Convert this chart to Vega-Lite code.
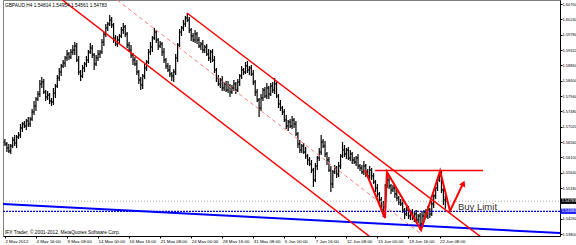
{
"$schema": "https://vega.github.io/schema/vega-lite/v6.json",
"width": 557, "height": 236, "padding": 0, "autosize": {"type": "pad"},
"background": "white",
"config": {"view": {"stroke": "#808080", "strokeWidth": 1}, "font": "Liberation Sans", "axis": {"labelFont": "Liberation Sans", "labelOverlap": false, "labelFlush": false, "labelBound": false, "grid": false, "title": null}},
"resolve": {"axis": {"x": "independent", "y": "independent"}},
"datasets": {"bars": [
{"i":0,"o":1.5656,"h":1.5665,"l":1.5644,"c":1.5650},{"i":1,"o":1.5650,"h":1.5656,"l":1.5626,"c":1.5638},{"i":2,"o":1.5638,"h":1.5650,"l":1.5623,"c":1.5629},{"i":3,"o":1.5629,"h":1.5650,"l":1.5620,"c":1.5644},{"i":4,"o":1.5644,"h":1.5671,"l":1.5638,"c":1.5662},{"i":5,"o":1.5662,"h":1.5677,"l":1.5644,"c":1.5653},{"i":6,"o":1.5653,"h":1.5677,"l":1.5638,"c":1.5671},{"i":7,"o":1.5671,"h":1.5686,"l":1.5665,"c":1.5677},{"i":8,"o":1.5677,"h":1.5710,"l":1.5668,"c":1.5698},{"i":9,"o":1.5698,"h":1.5716,"l":1.5686,"c":1.5710},
{"i":10,"o":1.5710,"h":1.5719,"l":1.5698,"c":1.5704},{"i":11,"o":1.5704,"h":1.5725,"l":1.5692,"c":1.5719},{"i":12,"o":1.5719,"h":1.5731,"l":1.5701,"c":1.5710},{"i":13,"o":1.5710,"h":1.5731,"l":1.5701,"c":1.5725},{"i":14,"o":1.5725,"h":1.5755,"l":1.5719,"c":1.5746},{"i":15,"o":1.5746,"h":1.5779,"l":1.5737,"c":1.5764},{"i":16,"o":1.5764,"h":1.5791,"l":1.5749,"c":1.5785},{"i":17,"o":1.5785,"h":1.5809,"l":1.5779,"c":1.5800},{"i":18,"o":1.5800,"h":1.5842,"l":1.5791,"c":1.5830},{"i":19,"o":1.5830,"h":1.5851,"l":1.5818,"c":1.5836},
{"i":20,"o":1.5836,"h":1.5845,"l":1.5800,"c":1.5806},{"i":21,"o":1.5806,"h":1.5812,"l":1.5779,"c":1.5791},{"i":22,"o":1.5791,"h":1.5809,"l":1.5782,"c":1.5797},{"i":23,"o":1.5797,"h":1.5803,"l":1.5770,"c":1.5779},{"i":24,"o":1.5779,"h":1.5788,"l":1.5764,"c":1.5776},{"i":25,"o":1.5776,"h":1.5818,"l":1.5767,"c":1.5803},{"i":26,"o":1.5803,"h":1.5830,"l":1.5788,"c":1.5824},{"i":27,"o":1.5824,"h":1.5857,"l":1.5818,"c":1.5848},{"i":28,"o":1.5848,"h":1.5878,"l":1.5839,"c":1.5866},{"i":29,"o":1.5866,"h":1.5890,"l":1.5854,"c":1.5884},
{"i":30,"o":1.5884,"h":1.5902,"l":1.5878,"c":1.5893},{"i":31,"o":1.5893,"h":1.5914,"l":1.5881,"c":1.5908},{"i":32,"o":1.5908,"h":1.5932,"l":1.5899,"c":1.5920},{"i":33,"o":1.5920,"h":1.5926,"l":1.5902,"c":1.5911},{"i":34,"o":1.5911,"h":1.5935,"l":1.5905,"c":1.5926},{"i":35,"o":1.5926,"h":1.5947,"l":1.5917,"c":1.5932},{"i":36,"o":1.5932,"h":1.5956,"l":1.5917,"c":1.5944},{"i":37,"o":1.5944,"h":1.5953,"l":1.5896,"c":1.5902},{"i":38,"o":1.5902,"h":1.5914,"l":1.5857,"c":1.5866},{"i":39,"o":1.5866,"h":1.5872,"l":1.5839,"c":1.5854},
{"i":40,"o":1.5854,"h":1.5887,"l":1.5848,"c":1.5878},{"i":41,"o":1.5878,"h":1.5896,"l":1.5866,"c":1.5890},{"i":42,"o":1.5890,"h":1.5914,"l":1.5881,"c":1.5902},{"i":43,"o":1.5902,"h":1.5932,"l":1.5893,"c":1.5926},{"i":44,"o":1.5926,"h":1.5953,"l":1.5920,"c":1.5938},{"i":45,"o":1.5938,"h":1.5947,"l":1.5908,"c":1.5917},{"i":46,"o":1.5917,"h":1.5923,"l":1.5872,"c":1.5890},{"i":47,"o":1.5890,"h":1.5917,"l":1.5884,"c":1.5908},{"i":48,"o":1.5908,"h":1.5932,"l":1.5899,"c":1.5920},{"i":49,"o":1.5920,"h":1.5932,"l":1.5908,"c":1.5926},
{"i":50,"o":1.5926,"h":1.5965,"l":1.5920,"c":1.5956},{"i":51,"o":1.5956,"h":1.5986,"l":1.5944,"c":1.5980},{"i":52,"o":1.5980,"h":1.6010,"l":1.5971,"c":1.5998},{"i":53,"o":1.5998,"h":1.6016,"l":1.5989,"c":1.6010},{"i":54,"o":1.6010,"h":1.6037,"l":1.6004,"c":1.6022},{"i":55,"o":1.6022,"h":1.6031,"l":1.5998,"c":1.6007},{"i":56,"o":1.6007,"h":1.6013,"l":1.5953,"c":1.5968},{"i":57,"o":1.5968,"h":1.5977,"l":1.5944,"c":1.5950},{"i":58,"o":1.5950,"h":1.5974,"l":1.5941,"c":1.5962},{"i":59,"o":1.5962,"h":1.5980,"l":1.5950,"c":1.5974},
{"i":60,"o":1.5974,"h":1.6001,"l":1.5968,"c":1.5992},{"i":61,"o":1.5992,"h":1.6013,"l":1.5980,"c":1.6001},{"i":62,"o":1.6001,"h":1.6007,"l":1.5971,"c":1.5980},{"i":63,"o":1.5980,"h":1.5986,"l":1.5938,"c":1.5947},{"i":64,"o":1.5947,"h":1.5956,"l":1.5926,"c":1.5932},{"i":65,"o":1.5932,"h":1.5947,"l":1.5908,"c":1.5917},{"i":66,"o":1.5917,"h":1.5923,"l":1.5887,"c":1.5902},{"i":67,"o":1.5902,"h":1.5911,"l":1.5884,"c":1.5890},{"i":68,"o":1.5890,"h":1.5902,"l":1.5857,"c":1.5866},{"i":69,"o":1.5866,"h":1.5872,"l":1.5830,"c":1.5842},
{"i":70,"o":1.5842,"h":1.5851,"l":1.5812,"c":1.5827},{"i":71,"o":1.5827,"h":1.5860,"l":1.5815,"c":1.5854},{"i":72,"o":1.5854,"h":1.5890,"l":1.5845,"c":1.5878},{"i":73,"o":1.5878,"h":1.5902,"l":1.5869,"c":1.5896},{"i":74,"o":1.5896,"h":1.5935,"l":1.5890,"c":1.5926},{"i":75,"o":1.5926,"h":1.5956,"l":1.5917,"c":1.5941},{"i":76,"o":1.5941,"h":1.5974,"l":1.5926,"c":1.5968},{"i":77,"o":1.5968,"h":1.5998,"l":1.5962,"c":1.5986},{"i":78,"o":1.5986,"h":1.5992,"l":1.5953,"c":1.5962},{"i":79,"o":1.5962,"h":1.5968,"l":1.5932,"c":1.5944},
{"i":80,"o":1.5944,"h":1.5959,"l":1.5938,"c":1.5950},{"i":81,"o":1.5950,"h":1.5956,"l":1.5914,"c":1.5926},{"i":82,"o":1.5926,"h":1.5938,"l":1.5893,"c":1.5902},{"i":83,"o":1.5902,"h":1.5908,"l":1.5875,"c":1.5884},{"i":84,"o":1.5884,"h":1.5893,"l":1.5866,"c":1.5872},{"i":85,"o":1.5872,"h":1.5887,"l":1.5851,"c":1.5860},{"i":86,"o":1.5860,"h":1.5866,"l":1.5839,"c":1.5854},{"i":87,"o":1.5854,"h":1.5875,"l":1.5836,"c":1.5866},{"i":88,"o":1.5866,"h":1.5920,"l":1.5857,"c":1.5908},{"i":89,"o":1.5908,"h":1.5953,"l":1.5896,"c":1.5947},
{"i":90,"o":1.5947,"h":1.5995,"l":1.5941,"c":1.5986},{"i":91,"o":1.5986,"h":1.6004,"l":1.5974,"c":1.5998},{"i":92,"o":1.5998,"h":1.6022,"l":1.5989,"c":1.6010},{"i":93,"o":1.6010,"h":1.6034,"l":1.6001,"c":1.6028},{"i":94,"o":1.6028,"h":1.6043,"l":1.6016,"c":1.6022},{"i":95,"o":1.6022,"h":1.6031,"l":1.5983,"c":1.5992},{"i":96,"o":1.5992,"h":1.5998,"l":1.5959,"c":1.5974},{"i":97,"o":1.5974,"h":1.5983,"l":1.5956,"c":1.5962},{"i":98,"o":1.5962,"h":1.5992,"l":1.5953,"c":1.5980},{"i":99,"o":1.5980,"h":1.5986,"l":1.5950,"c":1.5962},
{"i":100,"o":1.5962,"h":1.5971,"l":1.5938,"c":1.5944},{"i":101,"o":1.5944,"h":1.5956,"l":1.5932,"c":1.5950},{"i":102,"o":1.5950,"h":1.5962,"l":1.5923,"c":1.5932},{"i":103,"o":1.5932,"h":1.5947,"l":1.5923,"c":1.5941},{"i":104,"o":1.5941,"h":1.5950,"l":1.5914,"c":1.5920},{"i":105,"o":1.5920,"h":1.5935,"l":1.5899,"c":1.5908},{"i":106,"o":1.5908,"h":1.5932,"l":1.5893,"c":1.5926},{"i":107,"o":1.5926,"h":1.5935,"l":1.5896,"c":1.5902},{"i":108,"o":1.5902,"h":1.5914,"l":1.5863,"c":1.5872},{"i":109,"o":1.5872,"h":1.5878,"l":1.5836,"c":1.5848},
{"i":110,"o":1.5848,"h":1.5857,"l":1.5824,"c":1.5830},{"i":111,"o":1.5830,"h":1.5848,"l":1.5818,"c":1.5842},{"i":112,"o":1.5842,"h":1.5854,"l":1.5809,"c":1.5818},{"i":113,"o":1.5818,"h":1.5836,"l":1.5809,"c":1.5830},{"i":114,"o":1.5830,"h":1.5839,"l":1.5806,"c":1.5812},{"i":115,"o":1.5812,"h":1.5839,"l":1.5803,"c":1.5824},{"i":116,"o":1.5824,"h":1.5830,"l":1.5791,"c":1.5806},{"i":117,"o":1.5806,"h":1.5827,"l":1.5800,"c":1.5818},{"i":118,"o":1.5818,"h":1.5842,"l":1.5809,"c":1.5830},{"i":119,"o":1.5830,"h":1.5836,"l":1.5800,"c":1.5812},
{"i":120,"o":1.5812,"h":1.5845,"l":1.5806,"c":1.5836},{"i":121,"o":1.5836,"h":1.5860,"l":1.5824,"c":1.5854},{"i":122,"o":1.5854,"h":1.5884,"l":1.5845,"c":1.5872},{"i":123,"o":1.5872,"h":1.5878,"l":1.5857,"c":1.5866},{"i":124,"o":1.5866,"h":1.5896,"l":1.5860,"c":1.5884},{"i":125,"o":1.5884,"h":1.5899,"l":1.5863,"c":1.5872},{"i":126,"o":1.5872,"h":1.5884,"l":1.5857,"c":1.5878},{"i":127,"o":1.5878,"h":1.5887,"l":1.5854,"c":1.5860},{"i":128,"o":1.5860,"h":1.5872,"l":1.5827,"c":1.5836},{"i":129,"o":1.5836,"h":1.5842,"l":1.5794,"c":1.5806},
{"i":130,"o":1.5806,"h":1.5815,"l":1.5776,"c":1.5782},{"i":131,"o":1.5782,"h":1.5788,"l":1.5731,"c":1.5758},{"i":132,"o":1.5758,"h":1.5800,"l":1.5749,"c":1.5788},{"i":133,"o":1.5788,"h":1.5818,"l":1.5779,"c":1.5812},{"i":134,"o":1.5812,"h":1.5821,"l":1.5788,"c":1.5794},{"i":135,"o":1.5794,"h":1.5833,"l":1.5785,"c":1.5818},{"i":136,"o":1.5818,"h":1.5824,"l":1.5785,"c":1.5800},{"i":137,"o":1.5800,"h":1.5833,"l":1.5794,"c":1.5824},{"i":138,"o":1.5824,"h":1.5836,"l":1.5803,"c":1.5812},{"i":139,"o":1.5812,"h":1.5848,"l":1.5800,"c":1.5830},
{"i":140,"o":1.5830,"h":1.5839,"l":1.5788,"c":1.5794},{"i":141,"o":1.5794,"h":1.5800,"l":1.5758,"c":1.5770},{"i":142,"o":1.5770,"h":1.5782,"l":1.5749,"c":1.5758},{"i":143,"o":1.5758,"h":1.5764,"l":1.5737,"c":1.5746},{"i":144,"o":1.5746,"h":1.5755,"l":1.5716,"c":1.5722},{"i":145,"o":1.5722,"h":1.5737,"l":1.5695,"c":1.5704},{"i":146,"o":1.5704,"h":1.5722,"l":1.5689,"c":1.5716},{"i":147,"o":1.5716,"h":1.5725,"l":1.5698,"c":1.5704},{"i":148,"o":1.5704,"h":1.5734,"l":1.5695,"c":1.5722},{"i":149,"o":1.5722,"h":1.5728,"l":1.5698,"c":1.5710},
{"i":150,"o":1.5710,"h":1.5719,"l":1.5674,"c":1.5680},{"i":151,"o":1.5680,"h":1.5686,"l":1.5638,"c":1.5650},{"i":152,"o":1.5650,"h":1.5662,"l":1.5623,"c":1.5632},{"i":153,"o":1.5632,"h":1.5650,"l":1.5623,"c":1.5644},{"i":154,"o":1.5644,"h":1.5653,"l":1.5620,"c":1.5626},{"i":155,"o":1.5626,"h":1.5641,"l":1.5605,"c":1.5614},{"i":156,"o":1.5614,"h":1.5620,"l":1.5587,"c":1.5602},{"i":157,"o":1.5602,"h":1.5611,"l":1.5584,"c":1.5590},{"i":158,"o":1.5590,"h":1.5602,"l":1.5563,"c":1.5572},{"i":159,"o":1.5572,"h":1.5578,"l":1.5521,"c":1.5542},
{"i":160,"o":1.5542,"h":1.5593,"l":1.5536,"c":1.5584},{"i":161,"o":1.5584,"h":1.5614,"l":1.5572,"c":1.5608},{"i":162,"o":1.5608,"h":1.5638,"l":1.5599,"c":1.5626},{"i":163,"o":1.5626,"h":1.5677,"l":1.5617,"c":1.5656},{"i":164,"o":1.5656,"h":1.5665,"l":1.5638,"c":1.5644},{"i":165,"o":1.5644,"h":1.5659,"l":1.5611,"c":1.5620},{"i":166,"o":1.5620,"h":1.5626,"l":1.5587,"c":1.5602},{"i":167,"o":1.5602,"h":1.5611,"l":1.5566,"c":1.5572},{"i":168,"o":1.5572,"h":1.5584,"l":1.5506,"c":1.5530},{"i":169,"o":1.5530,"h":1.5572,"l":1.5518,"c":1.5566},
{"i":170,"o":1.5566,"h":1.5587,"l":1.5560,"c":1.5578},{"i":171,"o":1.5578,"h":1.5584,"l":1.5548,"c":1.5560},{"i":172,"o":1.5560,"h":1.5596,"l":1.5551,"c":1.5584},{"i":173,"o":1.5584,"h":1.5620,"l":1.5575,"c":1.5614},{"i":174,"o":1.5614,"h":1.5656,"l":1.5608,"c":1.5632},{"i":175,"o":1.5632,"h":1.5647,"l":1.5611,"c":1.5620},{"i":176,"o":1.5620,"h":1.5638,"l":1.5605,"c":1.5632},{"i":177,"o":1.5632,"h":1.5641,"l":1.5602,"c":1.5608},{"i":178,"o":1.5608,"h":1.5632,"l":1.5599,"c":1.5620},{"i":179,"o":1.5620,"h":1.5626,"l":1.5590,"c":1.5602},
{"i":180,"o":1.5602,"h":1.5611,"l":1.5590,"c":1.5596},{"i":181,"o":1.5596,"h":1.5614,"l":1.5584,"c":1.5608},{"i":182,"o":1.5608,"h":1.5620,"l":1.5575,"c":1.5584},{"i":183,"o":1.5584,"h":1.5590,"l":1.5569,"c":1.5578},{"i":184,"o":1.5578,"h":1.5587,"l":1.5560,"c":1.5566},{"i":185,"o":1.5566,"h":1.5599,"l":1.5557,"c":1.5584},{"i":186,"o":1.5584,"h":1.5590,"l":1.5551,"c":1.5566},{"i":187,"o":1.5566,"h":1.5575,"l":1.5548,"c":1.5554},{"i":188,"o":1.5554,"h":1.5584,"l":1.5545,"c":1.5572},{"i":189,"o":1.5572,"h":1.5578,"l":1.5542,"c":1.5554},
{"i":190,"o":1.5554,"h":1.5563,"l":1.5530,"c":1.5536},{"i":191,"o":1.5536,"h":1.5542,"l":1.5506,"c":1.5518},{"i":192,"o":1.5518,"h":1.5530,"l":1.5491,"c":1.5500},{"i":193,"o":1.5500,"h":1.5506,"l":1.5473,"c":1.5482},{"i":194,"o":1.5482,"h":1.5491,"l":1.5446,"c":1.5452},{"i":195,"o":1.5452,"h":1.5479,"l":1.5431,"c":1.5464},{"i":196,"o":1.5464,"h":1.5530,"l":1.5455,"c":1.5524},{"i":197,"o":1.5524,"h":1.5563,"l":1.5518,"c":1.5542},{"i":198,"o":1.5542,"h":1.5554,"l":1.5515,"c":1.5524},{"i":199,"o":1.5524,"h":1.5530,"l":1.5500,"c":1.5512},
{"i":200,"o":1.5512,"h":1.5527,"l":1.5506,"c":1.5518},{"i":201,"o":1.5518,"h":1.5524,"l":1.5488,"c":1.5500},{"i":202,"o":1.5500,"h":1.5512,"l":1.5479,"c":1.5488},{"i":203,"o":1.5488,"h":1.5494,"l":1.5467,"c":1.5476},{"i":204,"o":1.5476,"h":1.5485,"l":1.5464,"c":1.5470},{"i":205,"o":1.5470,"h":1.5485,"l":1.5443,"c":1.5452},{"i":206,"o":1.5452,"h":1.5458,"l":1.5425,"c":1.5440},{"i":207,"o":1.5440,"h":1.5461,"l":1.5434,"c":1.5452},{"i":208,"o":1.5452,"h":1.5464,"l":1.5425,"c":1.5434},{"i":209,"o":1.5434,"h":1.5452,"l":1.5422,"c":1.5446},
{"i":210,"o":1.5446,"h":1.5455,"l":1.5422,"c":1.5428},{"i":211,"o":1.5428,"h":1.5446,"l":1.5416,"c":1.5440},{"i":212,"o":1.5440,"h":1.5452,"l":1.5413,"c":1.5422},{"i":213,"o":1.5422,"h":1.5440,"l":1.5413,"c":1.5434},{"i":214,"o":1.5434,"h":1.5443,"l":1.5392,"c":1.5410},{"i":215,"o":1.5410,"h":1.5449,"l":1.5401,"c":1.5434},{"i":216,"o":1.5434,"h":1.5452,"l":1.5419,"c":1.5446},{"i":217,"o":1.5446,"h":1.5455,"l":1.5428,"c":1.5434},{"i":218,"o":1.5434,"h":1.5464,"l":1.5425,"c":1.5452},{"i":219,"o":1.5452,"h":1.5458,"l":1.5428,"c":1.5440},
{"i":220,"o":1.5440,"h":1.5479,"l":1.5434,"c":1.5470},{"i":221,"o":1.5470,"h":1.5500,"l":1.5458,"c":1.5494},{"i":222,"o":1.5494,"h":1.5530,"l":1.5485,"c":1.5518},{"i":223,"o":1.5518,"h":1.5548,"l":1.5509,"c":1.5542},{"i":224,"o":1.5542,"h":1.5572,"l":1.5536,"c":1.5554},{"i":225,"o":1.5554,"h":1.5569,"l":1.5503,"c":1.5512},{"i":226,"o":1.5512,"h":1.5518,"l":1.5467,"c":1.5482},{"i":227,"o":1.54814,"h":1.54954,"l":1.54561,"c":1.54783}
]},
"layer": [
{"data": {"name": "bars"},
 "mark": {"type": "rule", "color": "#000000", "strokeWidth": 1.2},
 "encoding": {
  "x": {"field": "i", "type": "quantitative", "scale": {"domain": [-1, 286.1], "nice": false, "zero": false},
   "axis": {"orient": "bottom", "title": null, "grid": false, "values": [0,16,32,48,64,80,96,112,128,144,160,176,192,208,224],
    "labelExpr": "['2 May 2012','4 May 16:00','9 May 08:00','14 May 00:00','16 May 16:00','21 May 08:00','24 May 00:00','28 May 16:00','31 May 08:00','5 Jun 00:00','7 Jun 16:00','12 Jun 08:00','15 Jun 00:00','19 Jun 16:00','22 Jun 08:00'][round(datum.value/16)]",
    "labelAlign": "left", "labelFontSize": 4.4, "labelPadding": 1, "tickSize": 2, "domainColor": "#000000", "tickColor": "#000000", "labelColor": "#000000", "labelFlush": false, "labelOverlap": false, "labelBound": false}},
  "y": {"field": "l", "type": "quantitative", "scale": {"domain": [1.5374, 1.6082], "nice": false, "zero": false},
   "axis": {"orient": "right", "title": null, "grid": false, "values": [1.607,1.6024,1.5978,1.5932,1.5886,1.584,1.5794,1.5748,1.5702,1.5656,1.561,1.5564,1.5518,1.5426,1.538],
    "format": ".5f", "labelFontSize": 4.0, "labelPadding": 0, "tickSize": 2, "domainColor": "#000000", "tickColor": "#000000", "labelColor": "#000000", "labelOverlap": false, "labelBound": false, "labelFlush": false}},
  "y2": {"field": "h"}
 }},
{"data": {"name": "bars"},
 "mark": {"type": "tick", "orient": "horizontal", "size": 2, "thickness": 1, "xOffset": -1, "color": "#000000"},
 "encoding": {"x": {"field": "i", "type": "quantitative", "axis": null}, "y": {"field": "o", "type": "quantitative", "axis": null}}},
{"data": {"name": "bars"},
 "mark": {"type": "tick", "orient": "horizontal", "size": 2, "thickness": 1, "xOffset": 1, "color": "#000000"},
 "encoding": {"x": {"field": "i", "type": "quantitative", "axis": null}, "y": {"field": "c", "type": "quantitative", "axis": null}}},
{"data": {"values": [{"i": -1, "p": 1.54783}, {"i": 286.1, "p": 1.54783}]},
 "mark": {"type": "line", "color": "#a8a8a8", "strokeWidth": 1, "strokeDash": [1, 2]},
 "encoding": {"x": {"field": "i", "type": "quantitative", "axis": null}, "y": {"field": "p", "type": "quantitative", "axis": null}}},
{"data": {"values": [{"i": -1, "p": 1.54481}, {"i": 286.1, "p": 1.54481}]},
 "mark": {"type": "line", "color": "#0000cc", "strokeWidth": 1.3, "strokeDash": [2, 1]},
 "encoding": {"x": {"field": "i", "type": "quantitative", "axis": null}, "y": {"field": "p", "type": "quantitative", "axis": null}}},
{"data": {"values": [{"i": -1, "p": 1.5470}, {"i": 286.1, "p": 1.5383}]},
 "mark": {"type": "line", "color": "#0000ff", "strokeWidth": 2, "clip": true},
 "encoding": {"x": {"field": "i", "type": "quantitative", "axis": null}, "y": {"field": "p", "type": "quantitative", "axis": null}}},
{"data": {"values": [{"i": 29.6, "p": 1.6082}, {"i": 187.7, "p": 1.5374}]},
 "mark": {"type": "line", "color": "#ff0000", "strokeWidth": 1.5, "clip": true},
 "encoding": {"x": {"field": "i", "type": "quantitative", "axis": null}, "y": {"field": "p", "type": "quantitative", "axis": null}}},
{"data": {"values": [{"i": 93.85, "p": 1.6043}, {"i": 245.4, "p": 1.5371}]},
 "mark": {"type": "line", "color": "#ff0000", "strokeWidth": 1.5, "clip": true},
 "encoding": {"x": {"field": "i", "type": "quantitative", "axis": null}, "y": {"field": "p", "type": "quantitative", "axis": null}}},
{"data": {"values": [{"i": 57.8, "p": 1.6082}, {"i": 214.5, "p": 1.5380}]},
 "mark": {"type": "line", "color": "#ff7a7a", "strokeWidth": 1, "strokeDash": [4, 3], "clip": true},
 "encoding": {"x": {"field": "i", "type": "quantitative", "axis": null}, "y": {"field": "p", "type": "quantitative", "axis": null}}},
{"data": {"values": [{"i": 190.8, "p": 1.55705}, {"i": 246.4, "p": 1.55705}]},
 "mark": {"type": "line", "color": "#ff0000", "strokeWidth": 1.5},
 "encoding": {"x": {"field": "i", "type": "quantitative", "axis": null}, "y": {"field": "p", "type": "quantitative", "axis": null}}},
{"data": {"values": [{"k": 1, "i": 185.6, "p": 1.5572}, {"k": 2, "i": 195.9, "p": 1.5428}, {"k": 3, "i": 196.9, "p": 1.5566}, {"k": 4, "i": 214.5, "p": 1.5392}, {"k": 5, "i": 224.3, "p": 1.5569}, {"k": 6, "i": 229.4, "p": 1.5449}, {"k": 7, "i": 236.4, "p": 1.5535}]},
 "mark": {"type": "line", "color": "#ff0000", "strokeWidth": 2},
 "encoding": {"x": {"field": "i", "type": "quantitative", "axis": null}, "y": {"field": "p", "type": "quantitative", "axis": null}, "order": {"field": "k"}}},
{"data": {"values": [{"i": 236.3, "p": 1.5532}]},
 "mark": {"type": "point", "shape": "triangle-up", "angle": 25, "size": 45, "filled": true, "color": "#ff0000", "opacity": 1},
 "encoding": {"x": {"field": "i", "type": "quantitative", "axis": null}, "y": {"field": "p", "type": "quantitative", "axis": null}}},
{"data": {"values": [{"i": 233.5, "p": 1.5453, "t": "Buy Limit"}]},
 "mark": {"type": "text", "align": "left", "baseline": "alphabetic", "fontSize": 9.5, "color": "#333333", "font": "Liberation Sans"},
 "encoding": {"x": {"field": "i", "type": "quantitative", "axis": null}, "y": {"field": "p", "type": "quantitative", "axis": null}, "text": {"field": "t"}}},
{"data": {"values": [{"i": 0, "p": 1.60625, "t": "GBPAUD,H4  1.54814 1.54954 1.54561 1.54783"}, {"i": 0, "p": 1.5380, "t": "IFX Trader, © 2001-2012, MetaQuotes Software Corp."}]},
 "mark": {"type": "text", "align": "left", "baseline": "alphabetic", "fontSize": 4.8, "color": "#000000", "font": "Liberation Sans"},
 "encoding": {"x": {"field": "i", "type": "quantitative", "axis": null}, "y": {"field": "p", "type": "quantitative", "axis": null}, "text": {"field": "t"}}},
{"data": {"values": [{"a": 286.4, "b": 295.6, "p1": 1.54863, "p2": 1.54703, "col": "black"}, {"a": 286.4, "b": 295.6, "p1": 1.54561, "p2": 1.54401, "col": "blue"}]},
 "mark": {"type": "rect"},
 "encoding": {"x": {"field": "a", "type": "quantitative", "axis": null}, "x2": {"field": "b"}, "y": {"field": "p1", "type": "quantitative", "axis": null}, "y2": {"field": "p2"},
  "color": {"field": "col", "type": "nominal", "scale": {"domain": ["black", "blue"], "range": ["#000000", "#2020ff"]}, "legend": null}}},
{"data": {"values": [{"i": 287.0, "p": 1.54783, "t": "1.54783"}, {"i": 287.0, "p": 1.54481, "t": "1.54480"}]},
 "mark": {"type": "text", "align": "left", "baseline": "middle", "fontSize": 4.0, "color": "#ffffff", "font": "Liberation Sans"},
 "encoding": {"x": {"field": "i", "type": "quantitative", "axis": null}, "y": {"field": "p", "type": "quantitative", "axis": null}, "text": {"field": "t"}}}
]
}
